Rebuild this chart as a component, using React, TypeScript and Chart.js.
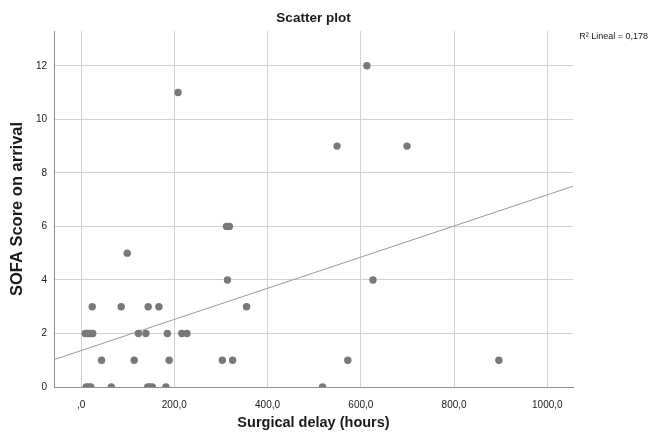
import React, { useEffect, useRef } from "react";
import { Chart, registerables } from "chart.js";

Chart.register(...registerables);

// Surgical delay (hours) and SOFA score per patient
const delayHours: number[] = [
  613, 208, 549, 699, 312, 318, 99, 314, 626,
  24, 86, 144, 167, 355,
  9, 13, 17, 21, 25, 123, 139, 185, 216, 227,
  44, 114, 189, 303, 325, 572, 896,
  11, 16, 21, 65, 143, 148, 153, 182, 518,
];
const sofaScore: number[] = [
  12, 11, 9, 9, 6, 6, 5, 4, 4,
  3, 3, 3, 3, 3,
  2, 2, 2, 2, 2, 2, 2, 2, 2, 2,
  1, 1, 1, 1, 1, 1, 1,
  0, 0, 0, 0, 0, 0, 0, 0, 0,
];

const xTickValues: number[] = [0, 200, 400, 600, 800, 1000];
const yTickValues: number[] = [0, 2, 4, 6, 8, 10, 12];
const X_MIN = -58;
const X_MAX = 1055;
const Y_MIN = 0;
const Y_MAX = 13.3;

// Linear fit
const FIT_INTERCEPT = 1.36;
const FIT_SLOPE = 0.00582;
const R2_LABEL = "R² Lineal = 0,178";
const TITLE = "Scatter plot";
const X_TITLE = "Surgical delay (hours)";
const Y_TITLE = "SOFA Score on arrival";

const FONT = "'Liberation Sans', Arial, sans-serif";

export default function App() {
  const ref = useRef<HTMLCanvasElement | null>(null);

  useEffect(() => {
    document.body.style.margin = "0";
    const canvas = ref.current;
    if (!canvas) return;

    const points = delayHours.map((x, i) => ({ x, y: sofaScore[i] }));
    const fit = [X_MIN, X_MAX].map((x) => ({ x, y: FIT_INTERCEPT + FIT_SLOPE * x }));

    const textPlugin = {
      id: "textPlugin",
      afterDraw(chart: any) {
        const { ctx, chartArea } = chart;
        ctx.save();
        ctx.fillStyle = "#1a1a1a";
        ctx.textBaseline = "middle";
        ctx.textAlign = "center";
        ctx.font = `bold 13.5px ${FONT}`;
        ctx.fillText(TITLE, (chartArea.left + chartArea.right) / 2, 18);
        ctx.textAlign = "right";
        ctx.font = `9px ${FONT}`;
        ctx.fillText(R2_LABEL, 648, 37);
        ctx.restore();
      },
    };

    const chart = new Chart(canvas, {
      type: "scatter",
      data: {
        datasets: [
          {
            type: "line",
            data: fit,
            borderColor: "#9a9a9a",
            borderWidth: 1,
            pointRadius: 0,
            fill: false,
            clip: 0,
            order: 2,
          } as any,
          {
            data: points,
            backgroundColor: "#787878",
            borderColor: "#787878",
            borderWidth: 0,
            pointRadius: 3.7,
            clip: 0,
            order: 1,
          } as any,
        ],
      },
      options: {
        responsive: false,
        animation: false,
        layout: { padding: { top: 31, right: 78, left: 0, bottom: 0 } },
        plugins: {
          legend: { display: false },
          tooltip: { enabled: false },
          title: { display: false },
        },
        scales: {
          x: {
            type: "linear",
            min: X_MIN,
            max: X_MAX,
            afterBuildTicks: (scale: any) => {
              scale.ticks = xTickValues.map((v) => ({ value: v }));
            },
            afterFit: (scale: any) => {
              scale.height = 45;
            },
            grid: { color: "#d2d2d2", drawTicks: false, lineWidth: 1 },
            border: { color: "#8f8f8f", width: 1 },
            ticks: {
              padding: 12,
              color: "#1a1a1a",
              font: { family: FONT, size: 10 },
              maxRotation: 0,
              callback: (v: any) =>
                Number(v) === 0 ? ",0" : Number(v).toFixed(1).replace(".", ","),
            },
            title: {
              display: true,
              text: X_TITLE,
              color: "#1a1a1a",
              font: { family: FONT, size: 14.5, weight: "bold" },
              padding: { top: 0, bottom: 0 },
            },
          },
          y: {
            type: "linear",
            min: Y_MIN,
            max: Y_MAX,
            afterBuildTicks: (scale: any) => {
              scale.ticks = yTickValues.map((v) => ({ value: v }));
            },
            afterFit: (scale: any) => {
              scale.width = 54;
            },
            grid: { color: "#d2d2d2", drawTicks: false, lineWidth: 1 },
            border: { color: "#8f8f8f", width: 1 },
            ticks: {
              padding: 7,
              color: "#1a1a1a",
              font: { family: FONT, size: 10 },
              callback: (v: any) => String(v),
            },
            title: {
              display: true,
              text: Y_TITLE,
              color: "#1a1a1a",
              font: { family: FONT, size: 16.5, weight: "bold" },
              padding: { top: 8, bottom: 0 },
            },
          },
        },
      },
      plugins: [textPlugin],
    });

    return () => chart.destroy();
  }, []);

  return (
    <div style={{ position: "absolute", left: 0, top: 0, width: 651, height: 432, background: "#fff" }}>
      <canvas ref={ref} width={651} height={432} />
    </div>
  );
}
